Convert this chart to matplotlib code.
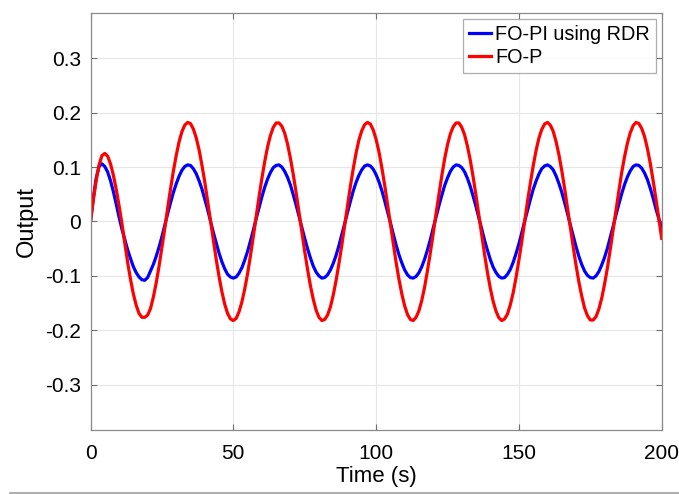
import matplotlib.pyplot as plt
import numpy as np

plt.rcParams['font.family'] = ['Liberation Sans', 'DejaVu Sans']
plt.rcParams['axes.unicode_minus'] = False

# Time samples (s)
time = np.arange(0, 201, 1)

# FO-PI using RDR output, every 1 s
fo_pi = [
    0.000, 0.044, 0.080, 0.101, 0.106, 0.101, 0.091, 0.075, 0.055, 0.032,
    0.008, -0.014, -0.033, -0.052, -0.068, -0.083, -0.094, -0.102, -0.107, -0.108,
    -0.103, -0.091, -0.079, -0.064, -0.047, -0.028, -0.007, 0.014, 0.034, 0.053,
    0.069, 0.083, 0.094, 0.101, 0.104, 0.103, 0.097, 0.088, 0.075, 0.060,
    0.041, 0.022, 0.001, -0.020, -0.039, -0.058, -0.074, -0.087, -0.097, -0.102,
    -0.104, -0.102, -0.095, -0.085, -0.071, -0.055, -0.036, -0.016, 0.005, 0.025,
    0.045, 0.063, 0.078, 0.090, 0.099, 0.103, 0.104, 0.100, 0.092, 0.081,
    0.067, 0.049, 0.030, 0.010, -0.011, -0.031, -0.050, -0.067, -0.082, -0.093,
    -0.100, -0.104, -0.103, -0.098, -0.089, -0.077, -0.062, -0.044, -0.024, -0.004,
    0.017, 0.037, 0.056, 0.072, 0.085, 0.095, 0.102, 0.104, 0.102, 0.096,
    0.086, 0.073, 0.057, 0.038, 0.018, -0.002, -0.023, -0.043, -0.061, -0.076,
    -0.089, -0.098, -0.103, -0.104, -0.101, -0.094, -0.083, -0.069, -0.052, -0.033,
    -0.012, 0.008, 0.029, 0.048, 0.066, 0.080, 0.092, 0.100, 0.104, 0.103,
    0.099, 0.091, 0.079, 0.064, 0.046, 0.027, 0.006, -0.014, -0.035, -0.053,
    -0.070, -0.084, -0.094, -0.101, -0.104, -0.103, -0.097, -0.088, -0.075, -0.059,
    -0.041, -0.021, 0.000, 0.020, 0.040, 0.059, 0.074, 0.087, 0.097, 0.102,
    0.104, 0.101, 0.095, 0.084, 0.070, 0.054, 0.035, 0.015, -0.006, -0.026,
    -0.046, -0.064, -0.079, -0.091, -0.099, -0.103, -0.104, -0.100, -0.092, -0.080,
    -0.066, -0.049, -0.029, -0.009, 0.012, 0.032, 0.051, 0.068, 0.082, 0.093,
    0.101, 0.104, 0.103, 0.098, 0.089, 0.077, 0.061, 0.043, 0.023, 0.005,
    -0.010,
]

# FO-P output, every 1 s
fo_p = [
    0.000, 0.040, 0.076, 0.104, 0.121, 0.125, 0.120, 0.106, 0.085, 0.059,
    0.029, -0.004, -0.040, -0.075, -0.106, -0.133, -0.154, -0.169, -0.176, -0.176,
    -0.172, -0.160, -0.139, -0.113, -0.082, -0.048, -0.013, 0.024, 0.059, 0.092,
    0.121, 0.146, 0.165, 0.177, 0.182, 0.180, 0.170, 0.154, 0.132, 0.104,
    0.073, 0.038, 0.002, -0.034, -0.069, -0.101, -0.129, -0.152, -0.169, -0.179,
    -0.182, -0.178, -0.166, -0.148, -0.124, -0.096, -0.063, -0.028, 0.009, 0.045,
    0.079, 0.110, 0.137, 0.158, 0.173, 0.181, 0.181, 0.175, 0.162, 0.142,
    0.116, 0.086, 0.053, 0.017, -0.019, -0.055, -0.088, -0.118, -0.143, -0.163,
    -0.176, -0.182, -0.180, -0.172, -0.157, -0.135, -0.108, -0.077, -0.043, -0.007,
    0.030, 0.065, 0.097, 0.126, 0.150, 0.167, 0.178, 0.182, 0.179, 0.168,
    0.151, 0.128, 0.099, 0.067, 0.032, -0.004, -0.040, -0.075, -0.106, -0.133,
    -0.155, -0.171, -0.180, -0.182, -0.176, -0.164, -0.145, -0.120, -0.090, -0.057,
    -0.022, 0.015, 0.050, 0.084, 0.115, 0.141, 0.161, 0.174, 0.181, 0.181,
    0.173, 0.159, 0.138, 0.112, 0.081, 0.047, 0.011, -0.025, -0.061, -0.094,
    -0.123, -0.147, -0.165, -0.177, -0.182, -0.179, -0.170, -0.153, -0.131, -0.103,
    -0.071, -0.037, 0.000, 0.036, 0.070, 0.102, 0.130, 0.153, 0.169, 0.179,
    0.182, 0.177, 0.166, 0.147, 0.123, 0.094, 0.061, 0.026, -0.010, -0.046,
    -0.080, -0.111, -0.137, -0.159, -0.173, -0.181, -0.181, -0.175, -0.161, -0.141,
    -0.115, -0.085, -0.051, -0.015, 0.021, 0.056, 0.090, 0.119, 0.144, 0.163,
    0.176, 0.182, 0.180, 0.171, 0.156, 0.134, 0.107, 0.075, 0.041, 0.005,
    -0.031,
]

x_ticks = [0, 50, 100, 150, 200]
y_ticks = [-0.3, -0.2, -0.1, 0, 0.1, 0.2, 0.3]
y_tick_labels = ['-0.3', '-0.2', '-0.1', '0', '0.1', '0.2', '0.3']

fig = plt.figure(figsize=(6.79, 4.94), dpi=100)
ax = fig.add_axes([0.1333, 0.1296, 0.8412, 0.8441])

ax.plot(time, fo_pi, color=(0, 0, 1), linewidth=2.3, label='FO-PI using RDR')
ax.plot(time, fo_p, color=(1, 0, 0), linewidth=2.3, label='FO-P')

ax.set_xlim(0, 200)
ax.set_ylim(-0.383, 0.383)
ax.set_xticks(x_ticks)
ax.set_yticks(y_ticks)
ax.set_yticklabels(y_tick_labels)
ax.tick_params(direction='in', length=4, width=0.8, color='#707070',
               top=True, right=True, labelsize=15, pad=7)
ax.tick_params(axis='x', pad=10)
ax.grid(True, color='#e6e6e6', linewidth=0.8)
ax.set_axisbelow(True)
for s in ax.spines.values():
    s.set_color('#8a8a8a')
    s.set_linewidth(0.9)

ax.set_xlabel('Time (s)', fontsize=16, labelpad=2)
ax.set_ylabel('Output', fontsize=17, labelpad=5)

leg = ax.legend(loc='upper right', fontsize=14.3, frameon=True, fancybox=False,
                handlelength=1.1, handletextpad=0.2, borderpad=0.3,
                labelspacing=0.2, borderaxespad=0.3)
leg.get_frame().set_edgecolor('#9a9a9a')
leg.get_frame().set_linewidth(0.9)

# thin separator line at the very bottom of the figure
fig.add_artist(plt.Line2D([0.015, 1.0], [0.003, 0.003], color='#a0a0a0', linewidth=1.2))

fig.savefig('out.png', dpi=100)
